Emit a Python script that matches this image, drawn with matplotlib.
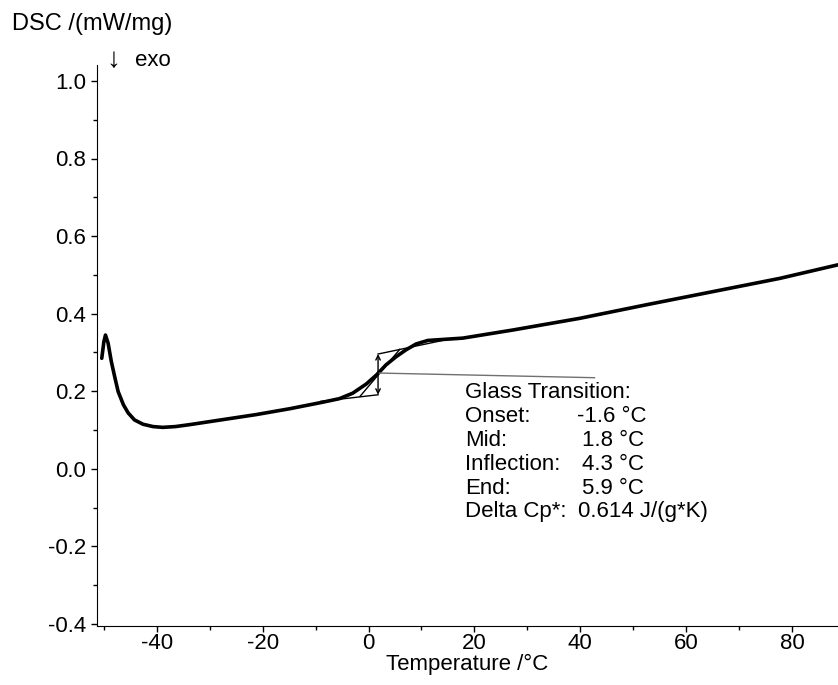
import numpy as np
import matplotlib.pyplot as plt
from matplotlib.ticker import MultipleLocator

plt.rcParams['font.family'] = ['Liberation Sans', 'DejaVu Sans']
plt.rcParams['axes.unicode_minus'] = False

# DSC curve (temperature in degC, DSC in mW/mg)
temp = [-50.4, -50.0, -49.7, -49.2, -48.6, -47.9, -47.3, -46.3, -45.4, -44.2,
        -42.6, -40.7, -38.9, -36.5, -33.8, -27.5, -21.2, -14.9, -8.6, -5.5,
        -3.0, -0.4, 1.5, 3.3, 5.2, 7.1, 9.0, 11.2, 13.4, 17.8,
        27.3, 39.9, 52.5, 65.1, 77.7, 88.7]
dsc = [0.285, 0.328, 0.345, 0.324, 0.277, 0.234, 0.199, 0.165, 0.144, 0.126,
       0.115, 0.109, 0.107, 0.109, 0.114, 0.127, 0.140, 0.155, 0.172, 0.181,
       0.195, 0.219, 0.242, 0.268, 0.289, 0.307, 0.322, 0.331, 0.333, 0.337,
       0.358, 0.388, 0.423, 0.457, 0.491, 0.526]

# glass transition evaluation construction
lower_base_t = [-9.0, 1.8]
lower_base_y = [0.174, 0.191]
upper_base_t = [1.8, 14.0]
upper_base_y = [0.296, 0.331]
tangent_t = [-1.6, 5.9]
tangent_y = [0.187, 0.308]
mid_t = 1.8
leader_t = [1.9, 42.7]
leader_y = [0.247, 0.235]

labels = ['Onset:', 'Mid:', 'Inflection:', 'End:', 'Delta Cp*:']
values = ['-1.6 \u00b0C', '1.8 \u00b0C', '4.3 \u00b0C', '5.9 \u00b0C', '0.614 J/(g*K)']

fig = plt.figure(figsize=(8.38, 6.85), dpi=100)
ax = fig.add_axes([97 / 838, 59 / 685, 741 / 838, 561 / 685])

ax.plot(temp, dsc, color='black', lw=2.6, solid_capstyle='round',
        solid_joinstyle='round')
ax.plot(lower_base_t, lower_base_y, color='black', lw=1)
ax.plot(upper_base_t, upper_base_y, color='black', lw=1)
ax.plot(tangent_t, tangent_y, color='black', lw=1)
ax.annotate('', xy=(mid_t, upper_base_y[0]), xytext=(mid_t, lower_base_y[1]),
            arrowprops=dict(arrowstyle='<->', color='black', lw=1,
                            shrinkA=0, shrinkB=0, mutation_scale=8))
ax.plot(leader_t, leader_y, color='#707070', lw=1)

fs = 16
y0 = 393
ax.text(465 / 838, 1 - y0 / 685, 'Glass Transition:', transform=fig.transFigure,
        fontsize=fs, va='center')
val_x = [577, 582, 582, 582, 578]
for i, (lab, val) in enumerate(zip(labels, values)):
    yy = 1 - (y0 + 23.8 * (i + 1)) / 685
    ax.text(465 / 838, yy, lab, transform=fig.transFigure, fontsize=fs, va='center')
    ax.text(val_x[i] / 838, yy, val, transform=fig.transFigure, fontsize=fs, va='center')

ax.set_xlim(-51.3, 88.7)
ax.set_ylim(-0.405, 1.041)
ax.xaxis.set_major_locator(MultipleLocator(20))
ax.xaxis.set_minor_locator(MultipleLocator(10))
ax.yaxis.set_major_locator(MultipleLocator(0.2))
ax.yaxis.set_minor_locator(MultipleLocator(0.1))
ax.yaxis.set_major_formatter(plt.FuncFormatter(lambda v, p: '%.1f' % v))

for s in ['top', 'right']:
    ax.spines[s].set_visible(False)
ax.tick_params(which='major', direction='out', length=4, width=1, labelsize=fs, pad=4)
ax.tick_params(which='minor', direction='out', length=3, width=1)
ax.tick_params(axis='x', which='major', pad=1)

ax.set_xlabel('Temperature /\u00b0C', fontsize=fs, labelpad=0)
fig.text(12 / 838, 1 - 24 / 685, 'DSC /(mW/mg)', fontsize=17, va='center')
fig.text(106 / 838, 1 - 60 / 685, '\u2193', fontsize=20, va='center')
fig.text(135 / 838, 1 - 61 / 685, 'exo', fontsize=fs, va='center')

fig.savefig('out.png', dpi=100)
